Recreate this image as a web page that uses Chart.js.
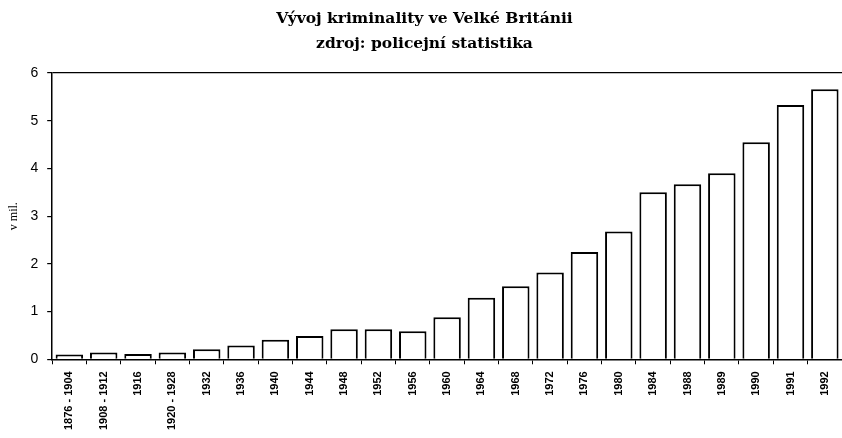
<!DOCTYPE html>
<html>
<head>
<meta charset="utf-8">
<script src="https://cdn.jsdelivr.net/npm/chart.js@4/dist/chart.umd.min.js"></script>
<style>
  html, body { margin: 0; padding: 0; background: #ffffff; }
  #wrap { width: 842px; height: 438px; position: relative; }
</style>
</head>
<body>
<div id="wrap"><canvas id="c"></canvas></div>
<script>
const titleLines = ["Vývoj kriminality ve Velké Británii", "zdroj: policejní statistika"];
const yAxisTitle = "v mil.";
const categories = ["1876 - 1904","1908 - 1912","1916","1920 - 1928","1932","1936","1940","1944","1948","1952","1956","1960","1964","1968","1972","1976","1980","1984","1988","1989","1990","1991","1992"];
const crimeMillions = [0.10,0.14,0.11,0.14,0.21,0.29,0.41,0.49,0.63,0.63,0.59,0.88,1.29,1.53,1.82,2.25,2.68,3.50,3.67,3.90,4.55,5.33,5.66];
const yTicks = [0,1,2,3,4,5,6];

new Chart(document.getElementById('c'), {
  type: 'bar',
  data: {
    labels: categories,
    datasets: [{
      data: crimeMillions,
      backgroundColor: '#ffffff',
      borderColor: '#000000',
      borderWidth: 2,
      borderSkipped: 'bottom',
      barPercentage: 0.8,
      categoryPercentage: 1.0
    }]
  },
  options: {
    responsive: true,
    maintainAspectRatio: false,
    animation: false,
    layout: { padding: { left: 7, right: 0, top: 0, bottom: 1 } },
    plugins: {
      legend: { display: false },
      tooltip: { enabled: false },
      title: {
        display: true,
        text: titleLines,
        color: '#000000',
        font: { family: "'DejaVu Serif', serif", size: 15.5, weight: 'bold', lineHeight: 1.58 },
        padding: { top: 7, bottom: 17 }
      }
    },
    scales: {
      x: {
        offset: true,
        afterFit: (scale) => { scale.paddingRight = 0; scale.paddingLeft = 0; },
        grid: {
          offset: true,
          drawOnChartArea: false,
          drawTicks: true,
          tickLength: 5,
          tickColor: '#000000',
          color: '#000000'
        },
        border: { display: true, color: '#000000', width: 1.5 },
        ticks: {
          autoSkip: false,
          minRotation: 90,
          maxRotation: 90,
          padding: 7,
          color: '#000000',
          font: { family: "'Liberation Sans', sans-serif", size: 11, weight: 'bold' }
        }
      },
      y: {
        min: 0,
        max: 6,
        afterBuildTicks: (axis) => { axis.ticks = yTicks.map(v => ({ value: v })); },
        grid: {
          drawTicks: true,
          tickLength: 5,
          tickColor: '#000000',
          lineWidth: 1.2,
          color: (ctx) => (ctx.tick && ctx.tick.value === 6) ? '#000000' : 'rgba(0,0,0,0)'
        },
        border: { display: true, color: '#000000', width: 1.5 },
        title: {
          display: true,
          text: yAxisTitle,
          color: '#000000',
          font: { family: "'Liberation Serif', serif", size: 12 },
          padding: { top: 0, bottom: 0 }
        },
        ticks: {
          padding: 9,
          color: '#000000',
          font: { family: "'Liberation Sans', sans-serif", size: 14 }
        }
      }
    }
  }
});
</script>
</body>
</html>
